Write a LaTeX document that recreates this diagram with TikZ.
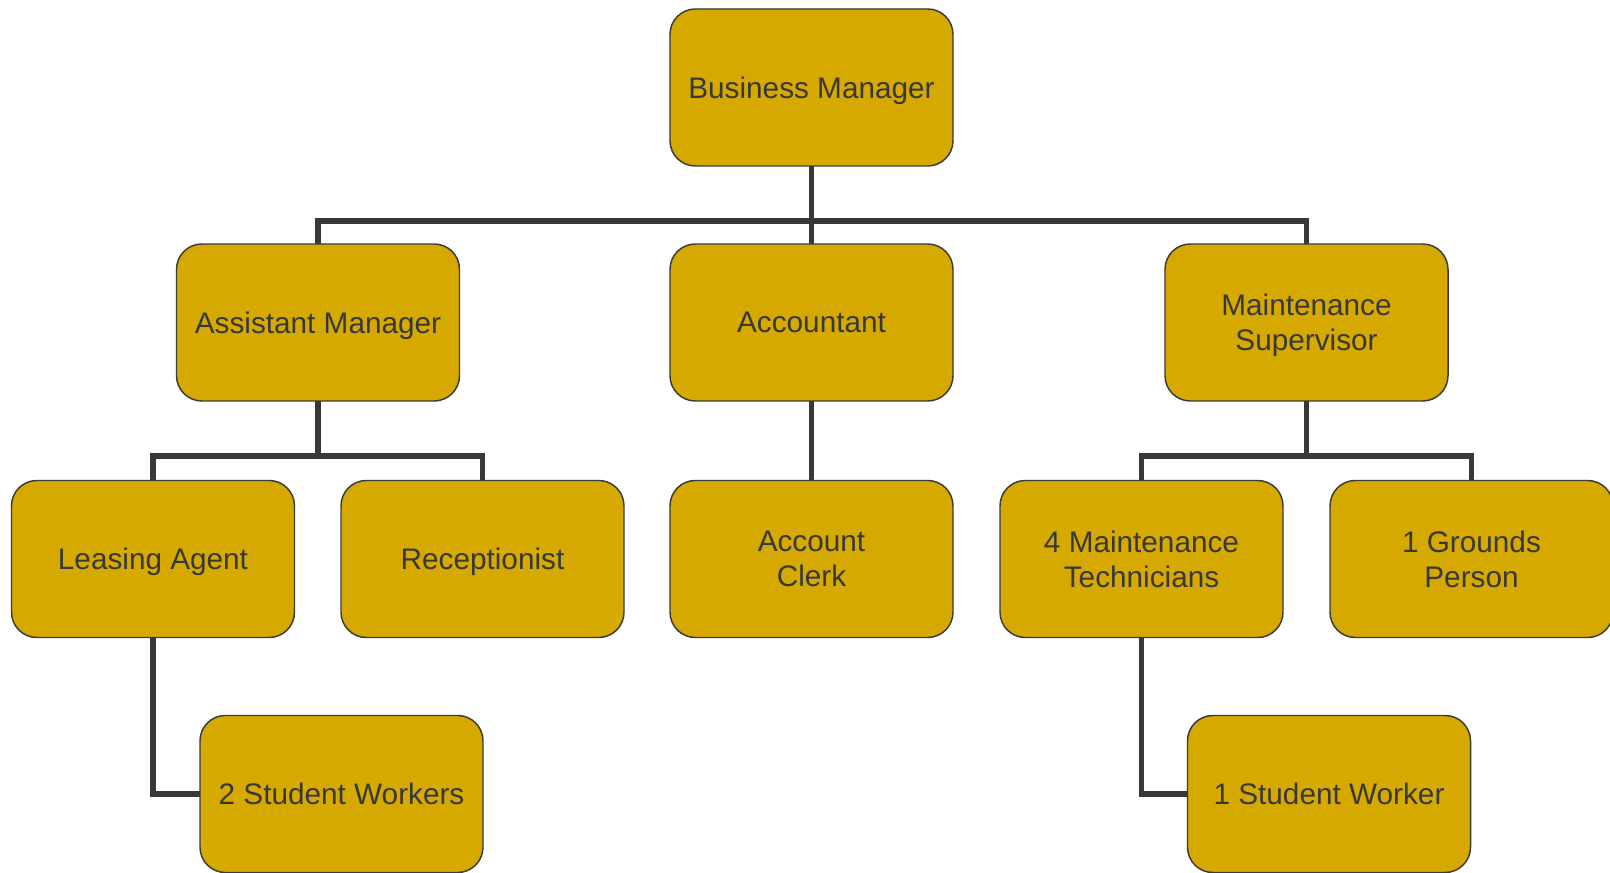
\documentclass[tikz,border=0pt]{standalone}
\usepackage{fontspec}
\setmainfont{Liberation Sans}
\usetikzlibrary{backgrounds}
\definecolor{boxfill}{RGB}{214,169,0}
\definecolor{boxline}{RGB}{58,58,58}
\definecolor{txt}{RGB}{56,56,56}
\definecolor{conn}{RGB}{56,56,56}
\tikzset{
  rolebox/.style={draw=boxline, fill=boxfill, line width=1.1pt, rounded corners=19pt,
    minimum width=212.25pt, minimum height=117.75pt, inner sep=0pt, outer sep=0pt,
    text depth=0pt, align=center, text=txt, font=\fontsize{22.3}{26}\selectfont},
  link/.style={draw=conn, line width=3.9pt, line join=miter}
}
\begin{document}
\begin{tikzpicture}[x=0.75pt,y=-0.75pt]
\useasboundingbox (0,0) rectangle (1610,873);
\node[rolebox] (bm) at (811.5,87.5) {Business Manager};
\node[rolebox] (am) at (318,322.5) {Assistant Manager};
\node[rolebox] (acc) at (811.5,322.5) {Accountant};
\node[rolebox] (ms) at (1306.5,322.5) {Maintenance\\Supervisor};
\node[rolebox] (la) at (153,559) {Leasing Agent};
\node[rolebox] (rec) at (482.5,559) {Receptionist};
\node[rolebox] (ac) at (811.5,559) {Account\\Clerk};
\node[rolebox] (mt) at (1141.5,559) {4 Maintenance\\Technicians};
\node[rolebox] (gp) at (1471.5,559) {1 Grounds\\Person};
\node[rolebox] (sw2) at (341.5,794) {2 Student Workers};
\node[rolebox] (sw1) at (1329,794) {1 Student Worker};
\coordinate (b1) at (811.5,221);
\coordinate (b2) at (318,456);
\coordinate (b3) at (1306.5,456);
\begin{scope}[on background layer]
\draw[link] (bm.south) -- (acc.north);
\draw[link] (am.north) |- (b1) -| (ms.north);
\draw[link] (am.south) -- (b2);
\draw[link] (la.north) |- (b2) -| (rec.north);
\draw[link] (acc.south) -- (ac.north);
\draw[link] (ms.south) -- (b3);
\draw[link] (mt.north) |- (b3) -| (gp.north);
\draw[link] (la.south) |- (sw2.west);
\draw[link] (mt.south) |- (sw1.west);
\end{scope}
\end{tikzpicture}
\end{document}
